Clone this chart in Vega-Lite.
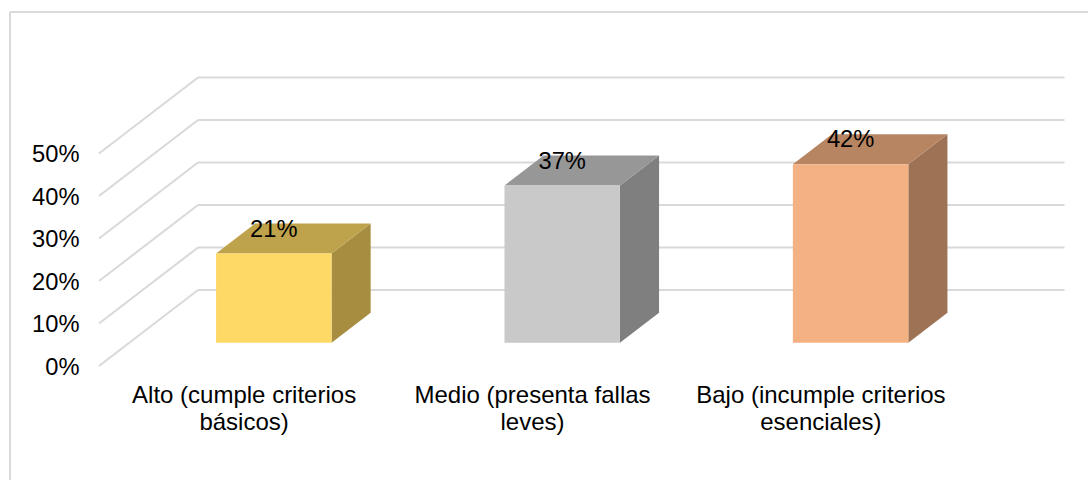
{
"$schema":"https://vega.github.io/schema/vega-lite/v6.json",
"width":1088,"height":480,"padding":0,"autosize":{"type":"none"},
"background":"white",
"config":{"view":{"stroke":null},"font":"Liberation Sans","text":{"font":"Liberation Sans"}},
"datasets":{
"bars":[{"cat":"Alto (cumple criterios básicos)","idx":0,"value":21},{"cat":"Medio (presenta fallas leves)","idx":1,"value":37},{"cat":"Bajo (incumple criterios esenciales)","idx":2,"value":42}],
"grid":[{"pct":0},{"pct":10},{"pct":20},{"pct":30},{"pct":40},{"pct":50}]
},
"layer":[
{"data":{"name":"grid"},"transform":[{"calculate":"-0.5014","as":"xFront"},{"calculate":"-0.1581","as":"xBack"},{"calculate":"datum.pct+17.88","as":"yBack"}],
"mark":{"type":"rule","color":"#D9D9D9","strokeWidth":2},
"encoding":{"x":{"field":"xFront","type":"quantitative","scale":{"domain":[-0.8447,2.9279],"nice":false,"zero":false},
"axis":{"orient":"bottom","offset":-97,"title":null,"values":[0,1,2],"domain":false,"ticks":false,"grid":false,"labelPadding":0,"labelBaseline":"top","labelFontSize":24,"labelFont":"Liberation Sans","labelColor":"#000000","labelLineHeight":27,"labelOverlap":false,"labelBound":false,"labelFlush":false,"labelLimit":400,
"labelExpr":"split(['Alto (cumple criterios|básicos)','Medio (presenta fallas|leves)','Bajo (incumple criterios|esenciales)'][datum.value],'|')"}},
"x2":{"field":"xBack"},
"y":{"field":"pct","type":"quantitative","scale":{"domain":[-26.82,86.12],"nice":false,"zero":false},
"axis":{"orient":"left","offset":-79,"title":null,"values":[0,10,20,30,40,50],"domain":false,"ticks":false,"grid":false,"labelPadding":0,"labelOffset":1,"labelFontSize":23.7,"labelFont":"Liberation Sans","labelColor":"#000000","labelOverlap":false,"labelBound":false,"labelFlush":false,"labelExpr":"datum.value+'%'"}},
"y2":{"field":"yBack"}}},
{"data":{"name":"grid"},"mark":{"type":"rule","color":"#D9D9D9","strokeWidth":2},
"encoding":{"x":{"datum":-0.81,"type":"quantitative"},"y":{"datum":83.3,"type":"quantitative"},"y2":{"datum":-26.82}}},
{"data":{"name":"grid"},"mark":{"type":"rule","color":"#D9D9D9","strokeWidth":2},
"encoding":{"x":{"datum":-0.81,"type":"quantitative"},"x2":{"datum":2.9279},"y":{"datum":83.3,"type":"quantitative"}}},
{"data":{"name":"grid"},"transform":[{"calculate":"-0.1581","as":"xBack"},{"calculate":"2.8464","as":"xEnd"},{"calculate":"datum.pct+17.88","as":"yBack"}],
"mark":{"type":"rule","color":"#D9D9D9","strokeWidth":2},
"encoding":{"x":{"field":"xBack","type":"quantitative"},"x2":{"field":"xEnd"},"y":{"field":"yBack","type":"quantitative"}}},
{"data":{"name":"bars"},"transform":[{"calculate":"[0,1]","as":"d"},{"flatten":["d"]},{"calculate":"0.305+datum.d*0.395","as":"z"},{"calculate":"datum.idx+0.2002+datum.z*0.3433","as":"xs"},{"calculate":"datum.z*17.88","as":"yb"},{"calculate":"datum.value+datum.z*17.88","as":"yt"}],
"mark":{"type":"area","orient":"vertical"},
"encoding":{"x":{"field":"xs","type":"quantitative"},"y":{"field":"yt","type":"quantitative"},"y2":{"field":"yb"},
"color":{"field":"cat","type":"nominal","legend":null,"sort":null,"scale":{"domain":["Alto (cumple criterios básicos)","Medio (presenta fallas leves)","Bajo (incumple criterios esenciales)"],"range":["#A68D40","#7F7F7F","#9E7355"]}}}},
{"data":{"name":"bars"},"transform":[{"calculate":"[0,1]","as":"d"},{"flatten":["d"]},{"calculate":"0.305+datum.d*0.395","as":"z"},{"calculate":"datum.idx-0.2002+datum.z*0.3433","as":"xa"},{"calculate":"datum.idx+0.2002+datum.z*0.3433","as":"xb"},{"calculate":"datum.value+datum.z*17.88","as":"yt"}],
"mark":{"type":"area","orient":"horizontal"},
"encoding":{"y":{"field":"yt","type":"quantitative"},"x":{"field":"xa","type":"quantitative"},"x2":{"field":"xb"},
"color":{"field":"cat","type":"nominal","legend":null,"sort":null,"scale":{"domain":["Alto (cumple criterios básicos)","Medio (presenta fallas leves)","Bajo (incumple criterios esenciales)"],"range":["#BFA34C","#979797","#B78562"]}}}},
{"data":{"name":"bars"},"transform":[{"calculate":"datum.idx-0.2002+0.1047","as":"xa"},{"calculate":"datum.idx+0.2002+0.1047","as":"xb"},{"calculate":"0.305*17.88","as":"yb"},{"calculate":"datum.value+0.305*17.88","as":"yt"}],
"mark":{"type":"rect"},
"encoding":{"x":{"field":"xa","type":"quantitative"},"x2":{"field":"xb"},"y":{"field":"yb","type":"quantitative"},"y2":{"field":"yt"},
"color":{"field":"cat","type":"nominal","legend":null,"sort":null,"scale":{"domain":["Alto (cumple criterios básicos)","Medio (presenta fallas leves)","Bajo (incumple criterios esenciales)"],"range":["#FFD966","#C9C9C9","#F4B183"]}}}},
{"data":{"name":"bars"},"transform":[{"calculate":"datum.idx+0.1047","as":"xl"},{"calculate":"datum.value+0.305*17.88","as":"yl"},{"calculate":"datum.value+'%'","as":"label"}],
"mark":{"type":"text","fontSize":23.7,"font":"Liberation Sans","color":"#000000","dy":-24,"baseline":"middle","align":"center"},
"encoding":{"x":{"field":"xl","type":"quantitative"},"y":{"field":"yl","type":"quantitative"},"text":{"field":"label"}}}
],
"resolve":{"scale":{"color":"independent"}}
}
